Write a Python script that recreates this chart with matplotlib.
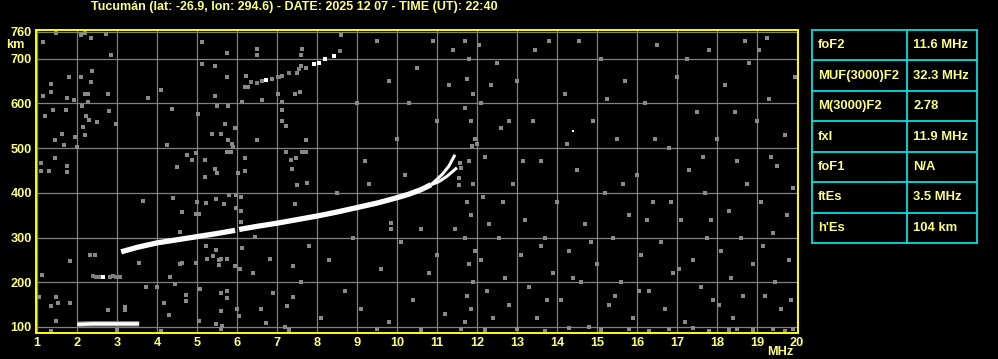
import matplotlib
matplotlib.use("Agg")
import matplotlib.pyplot as plt
from matplotlib.lines import Line2D

# ---------------- data ----------------
title = "Tucumán (lat: -26.9, lon: 294.6) - DATE: 2025 12 07 - TIME (UT): 22:40"
x_ticks = list(range(1, 21))
y_ticks = [100, 200, 300, 400, 500, 600, 700, 760]

# F-layer trace (first hop), two segments with a small gap near 6 MHz
f_seg1 = [3.1, 3.5, 4.0, 4.5, 5.0, 5.5, 5.95]
h_seg1 = [268, 278, 288, 295, 302, 309, 316]
f_seg2 = [6.05, 6.5, 7.0, 7.5, 8.0, 8.5, 9.0, 9.5, 10.0, 10.3, 10.6, 10.85]
h_seg2 = [318, 325, 332, 340, 348, 357, 367, 377, 389, 397, 407, 418]
# split near the critical frequency
f_o = [10.85, 11.0, 11.15, 11.3, 11.45]
h_o = [418, 430, 443, 460, 485]
f_x = [10.85, 11.05, 11.25, 11.5]
h_x = [418, 425, 437, 456]

# Sporadic E trace and its second hop
f_es = [2.0, 2.4, 2.8, 3.2, 3.55]
h_es = [106, 107, 107, 107, 107]
f_es2 = [2.4, 2.47, 2.55, 2.64, 2.82, 2.9, 2.98, 3.08]
h_es2 = [213, 211, 212, 212, 212, 213, 212, 212]

# second hop F trace
f_f2 = [6.35, 6.5, 6.72, 7.05, 7.3, 7.55, 7.92, 8.2, 8.42, 8.57]
h_f2 = [648, 645, 652, 660, 668, 677, 687, 700, 705, 718]
f_f2_bright = [6.72, 7.92, 8.05, 8.2, 8.42]
h_f2_bright = [652, 687, 690, 700, 705]

# background noise dots (frequency MHz, height km)
noise_f = [
    1.15, 1.48, 2.09, 2.2, 2.34, 2.73, 2.84, 1.8, 1.34, 2.09, 2.38, 2.34, 1.34, 1.15, 1.74, 2.2, 2.28, 2.78,
    1.92, 2.28, 2.13, 1.4, 1.71, 2.8, 1.2, 2.22, 2.3, 2.5, 2.96, 2.14, 1.61, 2.2, 1.95, 1.45, 1.66, 1.99,
    1.45, 1.1, 1.74, 1.3, 1.74, 1.1,
    5.13, 5.74, 6.5, 6.5, 5.13, 5.44, 5.74, 6.23, 6.19, 6.28, 6.63, 6.88, 7.03, 7.13, 7.63, 7.59, 7.59,
    7.73, 7.49, 7.58, 7.44, 7.03, 5.44, 6.13, 6.63, 7.13, 4.09, 3.78, 4.38, 5.03, 5.49, 5.78, 7.13, 7.13,
    7.23, 5.69, 5.38, 5.59, 5.96, 5.78, 5.88, 5.9, 6.5, 7.73, 4.24, 4.75, 4.88, 4.98, 5.19, 4.49, 5.44,
    5.49, 5.19, 5.74, 5.84, 6.19, 6.19, 6.03, 7.23, 7.34, 7.48, 7.63, 7.73, 8.59, 8.57,
    1.13, 1.83, 2.32, 2.44, 1.48, 1.53, 1.83, 1.34, 1.48, 1.04, 3.19, 3.19, 2.78, 3.55, 3.73, 4.0, 4.17,
    4.33, 4.44, 4.63, 4.58, 4.73, 4.73, 4.29, 4.98, 5.08, 5.24, 5.4, 5.54, 5.55, 5.6, 5.75, 5.94, 6.08,
    5.6, 5.74, 5.75, 5.6, 6.0, 6.05, 6.82, 6.9, 7.25, 7.4, 7.4, 5.05, 5.48, 5.62, 6.72, 7.2, 1.34,
    4.4, 5.0, 4.63, 4.97, 5.05, 5.23, 5.48, 5.67, 5.8, 5.98, 5.98, 6.1, 6.1, 6.1, 6.13, 5.23, 5.48, 6.44,
    7.26, 4.56, 3.65, 7.49, 7.74, 7.45, 7.37, 9.86, 9.84, 11.45, 11.55, 11.6, 11.88, 11.58, 11.54,
    11.7, 11.8, 11.75, 11.9, 11.7, 11.85, 11.95, 11.8, 11.9, 11.75, 11.85, 11.7, 11.95, 11.8, 11.9, 11.75,
    11.85, 11.7, 12.05, 12.1, 12.2, 12.15, 12.3, 12.1, 12.25, 12.4, 12.5, 12.6, 12.55, 12.7, 12.8, 12.9,
    13.0, 13.1, 13.2, 13.3, 13.4, 13.5, 13.6, 13.7, 13.8, 13.9, 14.0, 14.1, 14.2, 14.3, 14.5, 14.6, 14.7,
    14.8, 14.9, 15.0, 15.1, 15.2, 15.3, 15.4, 15.5, 15.6, 15.7, 15.8, 15.9, 16.0, 16.1, 16.2, 16.3, 16.4,
    16.5, 16.6, 16.7, 16.8, 16.9, 17.0, 17.1, 17.2, 17.3, 17.4, 17.5, 17.6, 17.7, 17.75, 17.8, 17.9, 18.0,
    18.1, 18.2, 18.3, 18.35, 18.4, 18.5, 18.6, 18.7, 18.8, 18.9, 19.0, 19.05, 19.1, 19.2, 19.25, 19.3,
    19.4, 19.5, 19.6, 19.7, 19.8, 19.9, 19.95,
    12.0, 12.35, 12.65, 13.15, 13.45, 13.75, 14.25, 14.55, 14.85, 15.25, 15.65, 16.05, 16.45, 16.85,
    17.25, 17.65, 18.05, 18.45, 18.75, 19.15, 19.45, 19.75, 12.8, 13.6, 14.4, 15.45, 16.25, 17.05, 17.85,
    18.65, 19.35, 19.85,
    11.6, 12.2, 13.0, 13.7, 14.3, 15.1, 15.8, 16.3, 16.8, 17.4, 17.8, 18.3, 18.5, 18.9, 19.4, 19.7, 19.9,
    3.0, 4.1, 5.6, 7.3, 9.5, 10.6,
    8.3, 8.7, 9.1, 9.6, 10.1, 10.4, 10.8, 11.2, 8.9, 9.8, 10.6, 11.0, 8.1, 7.8, 8.5, 9.3, 10.2, 7.6, 6.6, 6.4,
    9.0, 9.5, 10.0, 10.5, 11.0, 11.3, 9.2, 10.3, 10.9, 11.4, 9.8,
]
noise_h = [
    738, 758, 753, 758, 746, 755, 708, 660, 643, 660, 673, 648, 626, 617, 613, 621, 621, 621,
    608, 604, 595, 586, 586, 582, 572, 572, 563, 559, 554, 546, 532, 530, 524, 519, 506, 502,
    478, 467, 459, 448, 446, 448,
    738, 713, 722, 708, 688, 684, 658, 661, 637, 637, 651, 654, 659, 661, 722, 708, 684,
    680, 667, 626, 621, 621, 616, 604, 608, 604, 630, 613, 588, 577, 595, 595, 586, 560,
    550, 554, 532, 532, 544, 519, 510, 502, 519, 519, 506, 484, 474, 489, 474, 457, 453,
    444, 436, 491, 491, 478, 448, 444, 491, 474, 478, 491, 491, 753, 718,
    216, 248, 261, 261, 166, 154, 154, 147, 113, 168, 145, 138, 138, 243, 190, 189, 153,
    212, 195, 244, 240, 172, 157, 127, 244, 185, 252, 258, 250, 238, 252, 252, 237, 229,
    176, 181, 165, 135, 140, 125, 252, 176, 146, 168, 236, 113, 107, 102, 109, 101, 90,
    388, 379, 357, 353, 353, 378, 386, 375, 395, 395, 366, 391, 359, 334, 276, 280, 271, 302,
    338, 313, 382, 418, 423, 376, 453, 333, 320, 320, 418, 456, 505, 466, 432,
    740, 700, 655, 620, 590, 560, 520, 470, 420, 380, 350, 300, 270, 240, 200, 170,
    140, 110, 730, 600, 480, 390, 330, 250, 180, 120, 690, 545, 300, 210, 150, 420,
    650, 260, 340, 190, 560, 120, 470, 300, 740, 220, 380, 160, 620, 270, 450, 200, 330,
    100, 560, 240, 700, 400, 150, 300, 520, 200, 650, 350, 120, 440, 260, 600, 180, 380,
    730, 290, 140, 500, 220, 660, 340, 110, 450, 250, 580, 190, 400, 300, 720, 160, 520,
    270, 640, 360, 210, 120, 470, 300, 740, 690, 240, 560, 720, 380, 170, 745, 610,
    310, 460, 140, 530, 250, 410, 660,
    510, 640, 380, 470, 720, 160, 510, 740, 290, 610, 420, 180, 520, 380,
    700, 480, 150, 580, 420, 280, 200, 350, 560, 280, 210, 170, 340, 230, 340,
    170, 480, 160,
    95, 93, 96, 92, 97, 94, 96, 92, 95, 97, 92, 94, 96, 93, 95, 92, 96,
    94, 92, 95, 93, 96, 93,
    250, 180, 140, 230, 290, 160, 220, 130, 300, 110, 320, 260, 120, 280, 400, 420, 440, 200, 140, 220,
    600, 740, 520, 680, 560, 640, 470, 600, 740, 720, 650,
]

table_labels = ["foF2", "MUF(3000)F2", "M(3000)F2", "fxI", "foF1", "ftEs", "h'Es"]
table_values = ["11.6 MHz", "32.3 MHz", "2.78", "11.9 MHz", "N/A", "3.5 MHz", "104 km"]

# ---------------- figure ----------------
W, H = 998, 359
fig = plt.figure(figsize=(W / 100, H / 100), dpi=100, facecolor="black")

TXT = "#ffff80"
FRAME = "#ffff00"
GRID = "#808080"
NOISE = "#8a8a8a"
CYAN = "#00e0e0"
FONT = ["Liberation Sans", "DejaVu Sans"]


def fx(px):
    return px / W


def fy(py):
    return 1 - py / H


ax_l, ax_r, ax_t, ax_b = 36, 798, 30, 333
ax = fig.add_axes([fx(ax_l), fy(ax_b), (ax_r - ax_l) / W, (ax_b - ax_t) / H])
ax.set_facecolor("black")
ax.set_xlim(0.97, 20.03)
ax.set_ylim(86.5, 764)

for xv in x_ticks:
    ax.axvline(xv, color=GRID, lw=0.9, zorder=1)
for yv in y_ticks:
    ax.axhline(yv, color=GRID, lw=0.9, zorder=1)

for s in ax.spines.values():
    s.set_color(FRAME)
    s.set_linewidth(1.4)

ax.set_xticks(x_ticks)
ax.set_yticks(y_ticks)
ax.set_xticklabels([str(v) for v in x_ticks])
ax.set_yticklabels([str(v) for v in y_ticks])
ax.tick_params(length=0, colors=TXT, labelsize=9.2, pad=3)
for lab in ax.get_xticklabels() + ax.get_yticklabels():
    lab.set_fontfamily(FONT)
    lab.set_fontweight("bold")
    lab.set_color(TXT)

# noise
ax.plot(noise_f, noise_h, ls="none", marker="s", ms=2.2, mew=0, color=NOISE, zorder=2)

# second hops
ax.plot(f_es2, h_es2, ls="none", marker="s", ms=2.2, mew=0, color=GRID, zorder=3)
ax.plot([2.64], [212], ls="none", marker="s", ms=2.2, mew=0, color="white", zorder=3)
ax.plot(f_f2, h_f2, ls="none", marker="s", ms=2.6, mew=0, color=GRID, zorder=3)
ax.plot(f_f2_bright, h_f2_bright, ls="none", marker="s", ms=2.4, mew=0, color="white", zorder=4)

# main traces
ax.plot(f_es, h_es, color=GRID, lw=4.0, solid_capstyle="butt", zorder=4)
ax.plot(f_es, h_es, color="white", lw=2.4, solid_capstyle="butt", zorder=5)
ax.plot(f_seg1, h_seg1, color="white", lw=3.8, solid_capstyle="butt", zorder=5)
ax.plot(f_seg2, h_seg2, color="white", lw=3.8, solid_capstyle="butt", zorder=5)
ax.plot(f_o, h_o, color="white", lw=2.2, solid_capstyle="butt", zorder=5)
ax.plot(f_x, h_x, color="white", lw=2.2, solid_capstyle="butt", zorder=5)
ax.plot([14.4], [538], ls="none", marker="s", ms=2.0, mew=0, color="white", zorder=5)

# texts
fig.text(fx(91), fy(7), title, color=TXT, fontsize=9.0, fontweight="bold",
         family=FONT, ha="left", va="center")
fig.text(fx(6), fy(45), "km", color=TXT, fontsize=9.2, fontweight="bold",
         family=FONT, ha="left", va="center")
fig.text(fx(780), fy(352), "MHz", color=TXT, fontsize=9.2, fontweight="bold",
         family=FONT, ha="center", va="center")

# table
t_l, t_r, t_m, t_t, t_b = 812, 977, 907, 30, 243
n = len(table_labels)
row_h = (t_b - t_t) / n
lw_t = 1.3
for i in range(n + 1):
    yy = t_t + i * row_h
    fig.add_artist(Line2D([fx(t_l), fx(t_r)], [fy(yy), fy(yy)], color=CYAN, lw=lw_t))
for xx in (t_l, t_m, t_r):
    fig.add_artist(Line2D([fx(xx), fx(xx)], [fy(t_t), fy(t_b)], color=CYAN, lw=lw_t))
for i, (lab, val) in enumerate(zip(table_labels, table_values)):
    yc = t_t + (i + 0.5) * row_h
    fig.text(fx(818), fy(yc), lab, color=TXT, fontsize=9.4, fontweight="bold",
             family=FONT, ha="left", va="center")
    fig.text(fx(913), fy(yc), val, color=TXT, fontsize=9.4, fontweight="bold",
             family=FONT, ha="left", va="center")

fig.savefig("out.png", dpi=100, facecolor="black")
